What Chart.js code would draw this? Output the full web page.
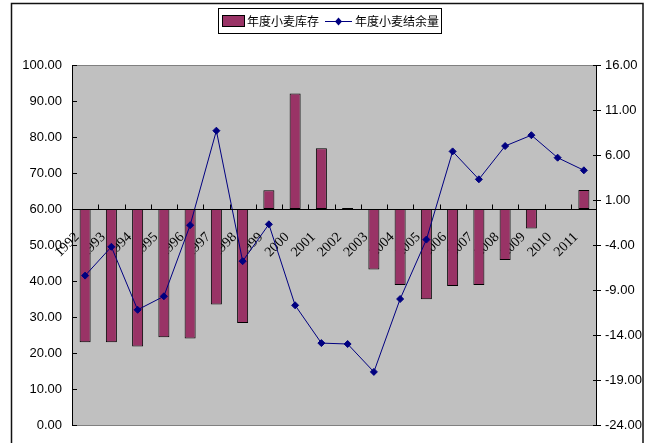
<!DOCTYPE html>
<html>
<head>
<meta charset="utf-8">
<script src="https://cdn.jsdelivr.net/npm/chart.js@4.4.1/dist/chart.umd.min.js"></script>
<style>
  html, body { margin: 0; padding: 0; background: #fff; }
  #wrap { width: 649px; height: 443px; }
</style>
</head>
<body>
<div id="wrap"><canvas id="chart"></canvas></div>
<script>
const years = ['1992', '1993', '1994', '1995', '1996', '1997', '1998', '1999', '2000', '2001',
    '2002', '2003', '2004', '2005', '2006', '2007', '2008', '2009', '2010', '2011'];

// 年度小麦库存 (left axis, bars hang from 60)
const stock = [23.0, 23.0, 21.8, 24.4, 24.0, 33.5, 28.3, 65.2, 92.1, 76.9,
    60.3, 43.2, 38.9, 34.9, 38.6, 38.9, 45.8, 54.6, null, 65.3];

// 年度小麦结余量 (right axis)
const surplus = [-7.4, -4.2, -11.2, -9.7, -1.8, 8.7, -5.8, -1.7, -10.7, -14.9,
    -15.0, -18.1, -10.0, -3.4, 6.4, 3.3, 7.0, 8.2, 5.7, 4.3];

const leftTicks = [0, 100, 10];
const rightTicks = [-24, 16, 5];
const barBase = 60;

const numFont = "'Liberation Sans', Arial, sans-serif";
const cjkFont = "'Noto Sans CJK SC', sans-serif";

const plotDecor = {
    id: 'plotDecor',
    beforeDraw(chart) {
        const c = chart.ctx;
        const a = chart.chartArea;
        c.save();
        c.fillStyle = '#fff';
        c.fillRect(0, 0, chart.width, chart.height);
        c.fillStyle = '#c0c0c0';
        c.fillRect(a.left, a.top, a.right - a.left, a.bottom - a.top);
        c.strokeStyle = '#808080';
        c.lineWidth = 1;
        c.strokeRect(a.left + 0.5, a.top + 0.5, a.right - a.left - 1, a.bottom - a.top);
        c.restore();
    },
    afterDatasetsDraw(chart) {
        const c = chart.ctx;
        const a = chart.chartArea;
        const x = chart.scales.x;
        const y = chart.scales.y;
        const y1 = chart.scales.y1;
        c.save();
        c.strokeStyle = '#000';
        c.lineWidth = 1;
        // left / right axis lines and ticks
        c.beginPath();
        c.moveTo(a.left + 0.5, a.top);
        c.lineTo(a.left + 0.5, a.bottom + 1);
        c.moveTo(a.right - 0.5, a.top);
        c.lineTo(a.right - 0.5, a.bottom + 1);
        y.ticks.forEach(t => {
            const py = Math.round(y.getPixelForValue(t.value)) + 0.5;
            c.moveTo(a.left, py);
            c.lineTo(a.left + 5, py);
        });
        y1.ticks.forEach(t => {
            const py = Math.round(y1.getPixelForValue(t.value)) + 0.5;
            c.moveTo(a.right - 4, py);
            c.lineTo(a.right + 4, py);
        });
        // category axis at 60
        const py = Math.round(y.getPixelForValue(barBase)) + 0.5;
        c.moveTo(a.left, py);
        c.lineTo(a.right, py);
        const step = (x.getPixelForValue(1) - x.getPixelForValue(0));
        for (let i = 1; i < years.length; i++) {
            const px = Math.round(x.getPixelForValue(i) - step / 2) + 0.5;
            c.moveTo(px, py);
            c.lineTo(px, py - 5);
        }
        c.stroke();
        c.restore();
    },
    afterDraw(chart) {
        const c = chart.ctx;
        const ds = chart.data.datasets;
        c.save();
        // outer frame
        c.strokeStyle = '#111';
        c.lineWidth = 1.5;
        c.strokeRect(11.5, 3.5, 631.5, 470);
        // legend
        c.lineWidth = 1;
        c.fillStyle = '#fff';
        c.fillRect(218.5, 8.5, 223, 25);
        c.strokeStyle = '#000';
        c.strokeRect(218.5, 8.5, 223, 25);
        c.fillStyle = '#993366';
        c.fillRect(222.5, 15.5, 22, 11);
        c.strokeRect(222.5, 15.5, 22, 11);
        c.font = '12px ' + cjkFont;
        c.textBaseline = 'middle';
        c.fillStyle = '#000';
        c.fillText(ds[0].label, 247, 21);
        c.strokeStyle = '#000080';
        c.beginPath();
        c.moveTo(325, 21.5);
        c.lineTo(352, 21.5);
        c.stroke();
        c.fillStyle = '#000080';
        c.beginPath();
        c.moveTo(338.5, 17.5);
        c.lineTo(342, 21.5);
        c.lineTo(338.5, 25.5);
        c.lineTo(335, 21.5);
        c.closePath();
        c.fill();
        c.fillStyle = '#000';
        c.fillText(ds[1].label, 355, 21);
        c.restore();
    }
};

new Chart(document.getElementById('chart'), {
    type: 'bar',
    data: {
        labels: years,
        datasets: [{
            type: 'bar',
            label: '年度小麦库存',
            data: stock,
            base: barBase,
            yAxisID: 'y',
            backgroundColor: '#993366',
            borderColor: '#000',
            borderWidth: 1,
            borderSkipped: false,
            barPercentage: 0.42,
            categoryPercentage: 1.0,
            order: 1
        }, {
            type: 'line',
            label: '年度小麦结余量',
            data: surplus,
            yAxisID: 'y1',
            borderColor: '#000080',
            borderWidth: 1,
            pointStyle: 'rectRot',
            pointRadius: 3.5,
            pointBackgroundColor: '#000080',
            pointBorderColor: '#000080',
            tension: 0,
            order: 0
        }]
    },
    options: {
        responsive: true,
        maintainAspectRatio: false,
        animation: false,
        layout: { padding: { top: 65, bottom: 18, left: 0, right: 0 } },
        plugins: {
            legend: { display: false },
            tooltip: { enabled: false }
        },
        scales: {
            x: {
                position: { y: barBase },
                offset: true,
                z: 1,
                grid: { display: false },
                border: { display: false },
                ticks: {
                    autoSkip: false,
                    minRotation: 45,
                    maxRotation: 45,
                    padding: 12,
                    labelOffset: -8,
                    color: '#000',
                    font: { family: "'Liberation Serif', 'Times New Roman', serif", size: 14 }
                }
            },
            y: {
                position: 'left',
                min: leftTicks[0],
                max: leftTicks[1],
                grid: { display: false, drawTicks: false },
                border: { display: false },
                ticks: {
                    stepSize: leftTicks[2],
                    padding: 10,
                    color: '#000',
                    font: { family: numFont, size: 13 },
                    callback: v => v.toFixed(2)
                },
                afterFit: s => { s.width = 72; }
            },
            y1: {
                position: 'right',
                min: rightTicks[0],
                max: rightTicks[1],
                grid: { display: false, drawTicks: false },
                border: { display: false },
                ticks: {
                    stepSize: rightTicks[2],
                    padding: 8,
                    color: '#000',
                    font: { family: numFont, size: 13 },
                    callback: v => v.toFixed(2)
                },
                afterFit: s => { s.width = 52; }
            }
        }
    },
    plugins: [plotDecor]
});
</script>
</body>
</html>
